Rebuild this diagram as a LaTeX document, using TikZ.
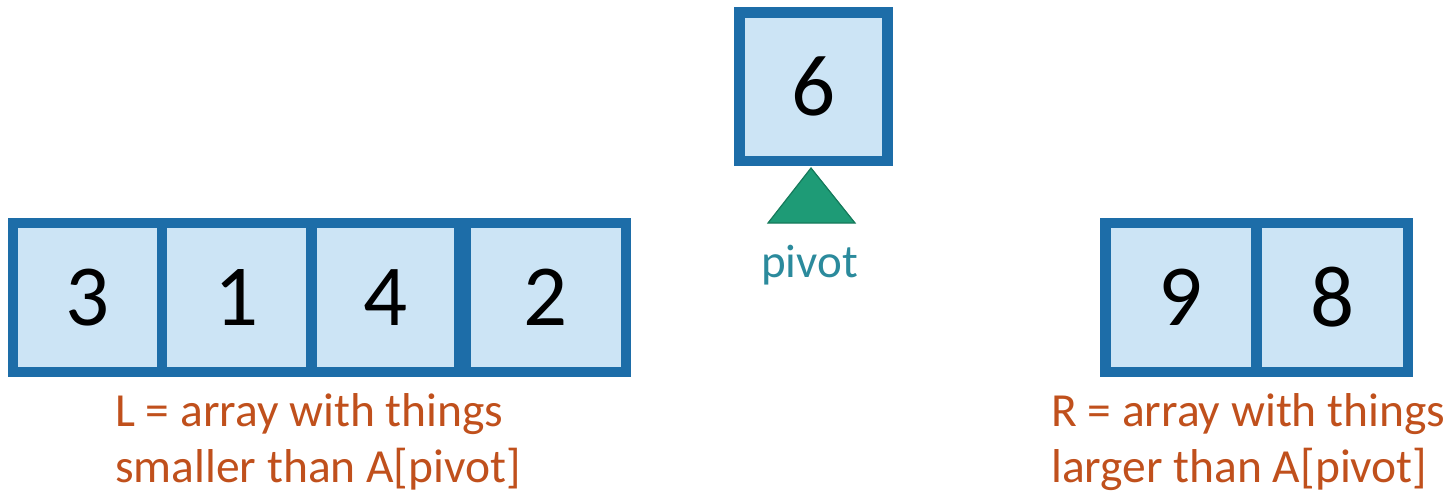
\documentclass[tikz,border=0pt]{standalone}
\usepackage{fontspec}
\setmainfont{Carlito}
\definecolor{cellborder}{HTML}{1D6DA8}
\definecolor{cellfill}{HTML}{CCE4F5}
\definecolor{labelorange}{HTML}{C0501C}
\definecolor{pivotteal}{HTML}{2B8A9C}
\definecolor{trifill}{HTML}{1E9B76}
\definecolor{tridraw}{HTML}{157A5B}
\begin{document}
\begin{tikzpicture}[x=1pt,y=-1pt,
  cell/.style={draw=cellborder, fill=cellfill, line width=10.5pt, inner sep=0pt,
    minimum height=149pt, font=\fontsize{87}{100}\selectfont, text=black},
  lbl/.style={text=labelorange, font=\fontsize{47.5}{56}\selectfont, align=left,
    inner sep=0pt, anchor=base west}]
\useasboundingbox (0,0) rectangle (1455,491);
% left array
\node[cell, minimum width=149pt] (c1) at (87.5,297.5) {3};
\node[cell, minimum width=149pt] (c2) at (236.5,297.5) {1};
\node[cell, minimum width=147pt] (c3) at (385.5,297.5) {4};
\node[cell, minimum width=160pt] (c4) at (546,297.5) {2};
% pivot
\node[cell, minimum width=148pt, minimum height=148.5pt] (p) at (813.5,86.75) {6};
\draw[fill=trifill, draw=tridraw, line width=1.2pt, line join=miter]
  (811,168) -- (855,223) -- (768,223) -- cycle;
\node[text=pivotteal, font=\fontsize{47}{56}\selectfont, inner sep=0pt, anchor=base]
  (pl) at (809.5,277) {pivot};
% right array
\node[cell, minimum width=151pt] (c5) at (1181,297.5) {9};
\node[cell, minimum width=151.5pt] (c6) at (1332.25,297.5) {8};
% labels (anchor on the baseline of the last line)
\node[lbl] (ll) at (115,482) {L = array with things\\smaller than A[pivot]};
\node[lbl] (rl) at (1051,482) {R = array with things\\larger than A[pivot]};
\end{tikzpicture}
\end{document}
